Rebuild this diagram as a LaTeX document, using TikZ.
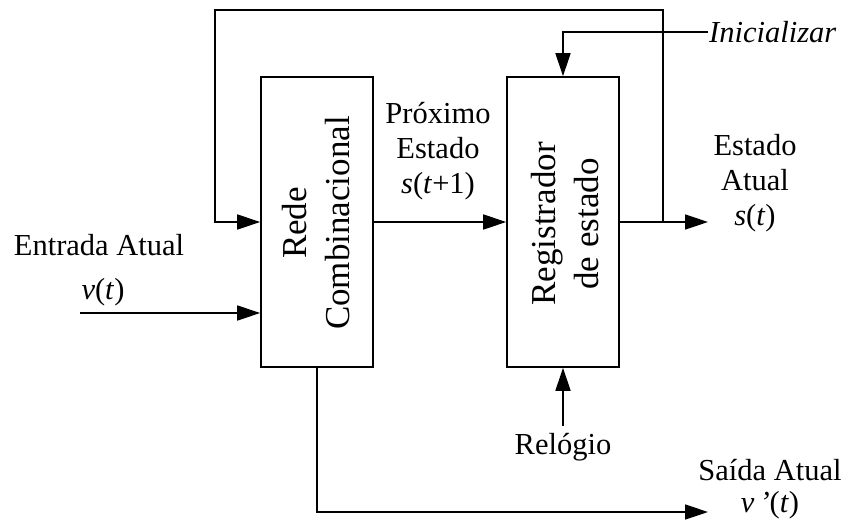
\documentclass[tikz,border=0pt]{standalone}
\usepackage{fontspec}
\setmainfont{Liberation Serif}
\usetikzlibrary{arrows.meta}

\begin{document}
\begin{tikzpicture}[x=1pt,y=-1pt,
  wire/.style={line width=1.6pt},
  flow/.style={wire,-{Triangle[length=23pt,width=15pt]}},
  block/.style={draw,line width=1.6pt,minimum width=112pt,minimum height=290pt,inner sep=0pt},
  lbl/.style={font=\fontsize{30.5}{35}\selectfont,align=center,inner sep=0pt},
  blbl/.style={font=\fontsize{35}{43}\selectfont,align=center,rotate=90,inner sep=0pt}]

\useasboundingbox (0,0) rectangle (843,528);

% the two blocks
\node[block] (rc)  at (317,222) {};
\node[block] (reg) at (563,222) {};
\node[blbl] (rcText)  at (316,223) {Rede\\Combinacional};
\node[blbl] (regText) at (565,224) {Registrador\\de estado};

% free ends of the connectors
\coordinate (tap)   at (663,222);
\coordinate (sOut)  at (708,222);
\coordinate (topL)  at (215,10);
\coordinate (ini)   at (708,32);
\coordinate (clkIn) at (563,426);
\coordinate (vin)   at (80,313);
\coordinate (vout)  at (708,512);

% connectors
\draw[flow] (rc.east) -- (reg.west);
\draw[flow] (reg.east) -- (sOut);
\draw[flow] (tap) |- (topL) |- (rc.west);
\draw[flow] (ini) -| (reg.north);
\draw[flow] (clkIn) -- (reg.south);
\draw[flow] (vin) -- (vin -| rc.west);
\draw[flow] (rc.south) |- (vout);

% labels
\node[lbl,anchor=west,font=\fontsize{30.5}{35}\selectfont\itshape] (iniText) at (709,32) {Inicializar};
\node[lbl] (clkText) at (563,447) {Relógio};
\node[lbl] (inText)  at (99,245) {Entrada Atual};
\node[lbl] (vText)   at (103,292) {\textit{v}(\textit{t})};
\node[lbl] (nsText)  at (438,151) {Próximo\\Estado\\\textit{s}(\textit{t}+1)};
\node[lbl] (csText)  at (755,183) {Estado\\Atual\\\textit{s}(\textit{t})};
\node[lbl] (outText) at (770,470) {Saída Atual};
\node[lbl] (voText)  at (770,505) {\textit{v\,'}(\textit{t})};
\end{tikzpicture}
\end{document}
